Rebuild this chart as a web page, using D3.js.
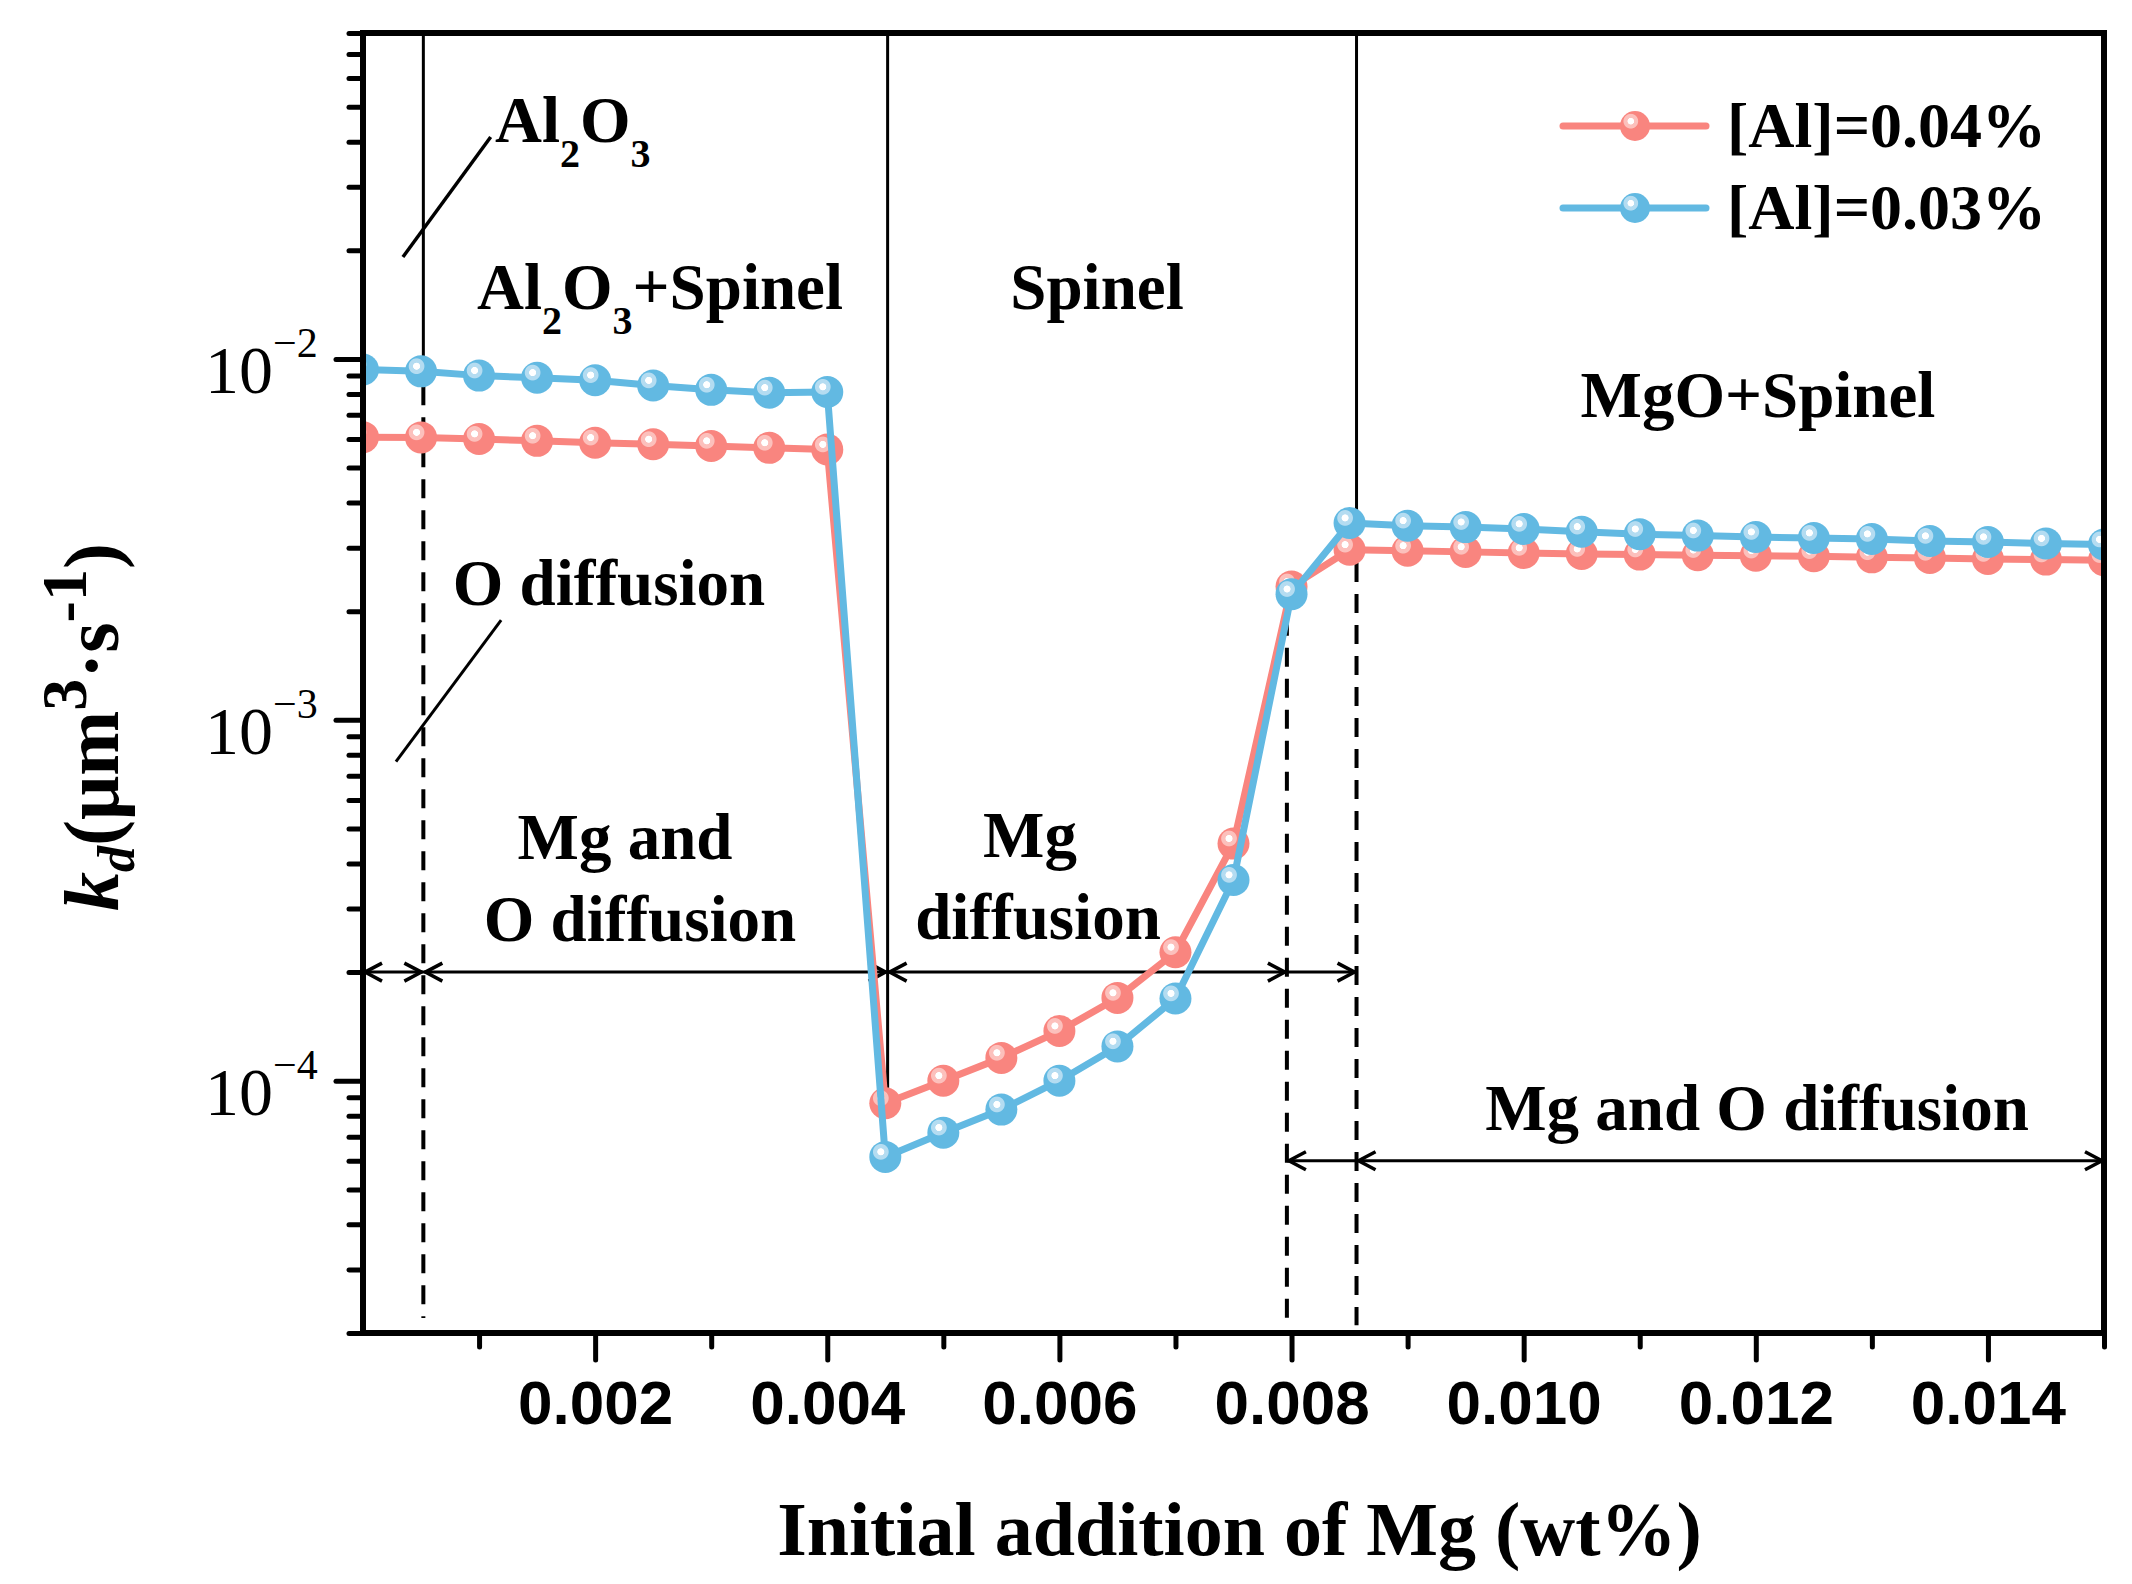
<!DOCTYPE html>
<html>
<head>
<meta charset="utf-8">
<script src="https://cdn.jsdelivr.net/npm/d3@7"></script>
<style>
  body { margin: 0; background: #fff; }
</style>
</head>
<body>
<div id="chart"></div>
<script>
// initial Mg addition (wt%)
const xValues = [0, 0.0005, 0.001, 0.0015, 0.002, 0.0025, 0.003, 0.0035, 0.004,
  0.0045, 0.005, 0.0055, 0.006, 0.0065, 0.007, 0.0075, 0.008, 0.0085, 0.009,
  0.0095, 0.010, 0.0105, 0.011, 0.0115, 0.012, 0.0125, 0.013, 0.0135, 0.014,
  0.0145, 0.015]

// kd for [Al]=0.04%
const kdAl004 = [0.00607, 0.00606, 0.00600, 0.00593, 0.00586, 0.00580, 0.00574, 0.00567, 0.00561,
  8.66e-5, 1.0e-4, 1.157e-4, 1.373e-4, 1.696e-4, 2.27e-4, 4.54e-4, 2.34e-3, 2.96e-3, 2.94e-3,
  2.92e-3, 2.90e-3, 2.88e-3, 2.87e-3, 2.86e-3, 2.85e-3, 2.84e-3, 2.82e-3, 2.81e-3, 2.79e-3,
  2.78e-3, 2.77e-3]

// kd for [Al]=0.03%
const kdAl003 = [0.00935, 0.00924, 0.00899, 0.00887, 0.00873, 0.00844, 0.00821, 0.00806, 0.00810,
  6.15e-5, 7.18e-5, 8.32e-5, 1.0e-4, 1.245e-4, 1.69e-4, 3.6e-4, 2.23e-3, 3.51e-3, 3.45e-3,
  3.42e-3, 3.38e-3, 3.32e-3, 3.27e-3, 3.24e-3, 3.21e-3, 3.19e-3, 3.17e-3, 3.13e-3, 3.11e-3,
  3.08e-3, 3.06e-3]

const seriesNames = ['[Al]=0.04%', '[Al]=0.03%']

const xMajorTicks = [0.002, 0.004, 0.006, 0.008, 0.010, 0.012, 0.014]
const xMinorTicks = [0.001, 0.003, 0.005, 0.007, 0.009, 0.011, 0.013, 0.015]
const yMajorTicks = [1e-4, 1e-3, 1e-2]
const yExponents = ['\u22124', '\u22123', '\u22122']

// phase boundaries (wt% Mg)
const boundaries = [0.00052, 0.00452, 0.00796, 0.00856]

const W = 2132
const H = 1584
const plot = { left: 363, right: 2104, top: 33, bottom: 1333 }

const colors = [
  { base: '#f9857f', ring: '#fcc0bc' },
  { base: '#62b9e2', ring: '#b4dcf1' }
]
const serif = "'Liberation Serif', 'Times New Roman', serif"
const sans = "'Liberation Sans', Arial, sans-serif"

const svg = d3.select('#chart')
  .append('svg')
  .attr('width', W)
  .attr('height', H)
  .style('background', '#fff')

const x = d3.scaleLinear().domain([0, 0.015]).range([plot.left, plot.right])
const y = d3.scaleLog().domain([2e-5, 8e-2]).range([plot.bottom, plot.top])

const defs = svg.append('defs')
defs.append('clipPath').attr('id', 'plotclip')
  .append('rect')
  .attr('x', plot.left).attr('y', plot.top)
  .attr('width', plot.right - plot.left).attr('height', plot.bottom - plot.top)

colors.forEach((c, i) => {
  const g = defs.append('radialGradient')
    .attr('id', 'ball' + i)
    .attr('cx', 0.36).attr('cy', 0.34).attr('r', 0.5)
  g.append('stop').attr('offset', 0).attr('stop-color', '#fff')
  g.append('stop').attr('offset', 0.2).attr('stop-color', '#fff')
  g.append('stop').attr('offset', 0.24).attr('stop-color', c.ring)
  g.append('stop').attr('offset', 0.46).attr('stop-color', c.ring)
  g.append('stop').attr('offset', 0.52).attr('stop-color', c.base)
  g.append('stop').attr('offset', 1).attr('stop-color', c.base)
})

// ---- boundary lines and arrows ----
const guides = svg.append('g').attr('stroke', '#000').attr('fill', 'none')

function vline (xv, y0, y1, dashed) {
  guides.append('line')
    .attr('x1', x(xv)).attr('x2', x(xv))
    .attr('y1', y(y0)).attr('y2', y(y1))
    .attr('stroke-width', dashed ? 4 : 3)
    .attr('stroke-dasharray', dashed ? '19 12' : null)
}
vline(boundaries[0], 8e-2, 8.9e-3, false)
vline(boundaries[0], 8.4e-3, 2.2e-5, true)
vline(boundaries[1], 8e-2, 8.5e-5, false)
vline(boundaries[2], 1.93e-3, 2.1e-5, true)
vline(boundaries[3], 8e-2, 2.96e-3, false)
vline(boundaries[3], 2.72e-3, 2.1e-5, true)

function arrow (x0, x1, yv, headLeft, headRight) {
  const py = y(yv)
  const a = x(x0)
  const b = x(x1)
  guides.append('line')
    .attr('x1', a).attr('x2', b).attr('y1', py).attr('y2', py)
    .attr('stroke-width', 3)
  const head = (tx, d) => guides.append('path')
    .attr('d', `M${tx - d * 17},${py - 9}L${tx},${py}L${tx - d * 17},${py + 9}`)
    .attr('stroke-width', 3.5)
  if (headLeft) head(a + 2, -1)
  if (headRight) head(b - 2, 1)
}
arrow(0, boundaries[0], 2e-4, true, true)
arrow(boundaries[0], boundaries[1], 2e-4, true, true)
arrow(boundaries[1], boundaries[2], 2e-4, true, true)
arrow(boundaries[2], boundaries[3], 2e-4, false, true)
arrow(boundaries[2], boundaries[3], 6e-5, true, false)
arrow(boundaries[3], 0.015, 6e-5, true, true)

// leader lines
guides.append('line')
  .attr('x1', x(0.0011)).attr('y1', y(0.0412))
  .attr('x2', x(0.000344)).attr('y2', y(0.01917))
  .attr('stroke-width', 3.5)
guides.append('line')
  .attr('x1', x(0.00119)).attr('y1', y(1.89e-3))
  .attr('x2', x(0.000284)).attr('y2', y(7.66e-4))
  .attr('stroke-width', 3)

// ---- series ----
const series = [kdAl004, kdAl003].map((vals, i) => ({
  name: seriesNames[i],
  points: xValues.map((xv, j) => [xv, vals[j]])
}))

const line = d3.line().x(d => x(d[0])).y(d => y(d[1]))
const dataG = svg.append('g').attr('clip-path', 'url(#plotclip)')

series.forEach((s, i) => {
  dataG.append('path')
    .datum(s.points)
    .attr('d', line)
    .attr('fill', 'none')
    .attr('stroke', colors[i].base)
    .attr('stroke-width', 7)
    .attr('stroke-linejoin', 'round')
  dataG.selectAll('.pt' + i)
    .data(s.points)
    .enter()
    .append('circle')
    .attr('cx', d => x(d[0]))
    .attr('cy', d => y(d[1]))
    .attr('r', 16)
    .attr('fill', `url(#ball${i})`)
})

// ---- axes ----
const axG = svg.append('g')

const xMajor = axG.append('g')
  .attr('transform', `translate(0,${plot.bottom})`)
  .call(d3.axisBottom(x).tickValues(xMajorTicks).tickSize(27).tickPadding(20)
    .tickFormat(d3.format('.3f')))
const xMinor = axG.append('g')
  .attr('transform', `translate(0,${plot.bottom})`)
  .call(d3.axisBottom(x).tickValues(xMinorTicks).tickSize(14).tickFormat(''))

const yMinorTicks = y.ticks().filter(v => !yMajorTicks.some(m => Math.abs(m - v) / m < 1e-6))
const yMajor = axG.append('g')
  .attr('transform', `translate(${plot.left},0)`)
  .call(d3.axisLeft(y).tickValues(yMajorTicks).tickSize(27).tickFormat(''))
const yMinor = axG.append('g')
  .attr('transform', `translate(${plot.left},0)`)
  .call(d3.axisLeft(y).tickValues(yMinorTicks).tickSize(14).tickFormat(''))

;[xMajor, xMinor, yMajor, yMinor].forEach(g => {
  g.select('.domain').remove()
  g.selectAll('.tick line').attr('stroke', '#000').attr('stroke-width', 5)
    .attr('stroke-linecap', 'round')
})
xMajor.selectAll('.tick text')
  .attr('fill', '#000')
  .style('font-family', sans)
  .style('font-weight', 'bold')
  .style('font-size', '62px')

// y tick labels 10^n
const yLab = axG.selectAll('.ylab')
  .data(yMajorTicks)
  .enter()
  .append('text')
  .attr('x', 205)
  .attr('y', d => y(d) + 34)
  .style('font-family', serif)
  .style('font-size', '68px')
yLab.append('tspan').text('10')
yLab.append('tspan')
  .attr('dy', -36)
  .style('font-size', '42px')
  .text((d, i) => yExponents[i])

// frame
axG.append('rect')
  .attr('x', plot.left).attr('y', plot.top)
  .attr('width', plot.right - plot.left).attr('height', plot.bottom - plot.top)
  .attr('fill', 'none').attr('stroke', '#000').attr('stroke-width', 6)

// axis titles
svg.append('text')
  .attr('x', (plot.left + plot.right) / 2 + 6)
  .attr('y', 1555)
  .attr('text-anchor', 'middle')
  .style('font-family', serif)
  .style('font-weight', 'bold')
  .style('font-size', '76px')
  .text('Initial addition of Mg (wt%)')

const yTitle = svg.append('text')
  .attr('transform', 'translate(118,727) rotate(-90)')
  .attr('text-anchor', 'middle')
  .style('font-family', serif)
  .style('font-weight', 'bold')
  .style('font-size', '78px')
yTitle.append('tspan').style('font-style', 'italic').text('k')
yTitle.append('tspan').style('font-style', 'italic').style('font-size', '52px')
  .attr('dy', 16).text('d')
yTitle.append('tspan').attr('dy', -16).text('(\u03bcm')
yTitle.append('tspan').style('font-size', '64px').attr('dy', -32).text('3')
yTitle.append('tspan').attr('dy', 32).text('\u00b7s')
yTitle.append('tspan').style('font-size', '64px').attr('dy', -32).text('-1')
yTitle.append('tspan').attr('dy', 32).text(')')

// ---- region labels ----
const labels = svg.append('g')
  .style('font-family', serif)
  .style('font-weight', 'bold')
  .style('font-size', '65px')

function formula (xp, yp, parts, anchor) {
  const t = labels.append('text').attr('x', xp).attr('y', yp)
    .attr('text-anchor', anchor || 'start')
  parts.forEach(p => {
    const sp = t.append('tspan').text(p.t)
    if (p.sub) sp.style('font-size', '40px').attr('dy', 25)
    if (p.back) sp.attr('dy', -25)
  })
  return t
}
formula(495, 142, [{ t: 'Al' }, { t: '2', sub: true }, { t: 'O', back: true }, { t: '3', sub: true }])
formula(477, 309, [{ t: 'Al' }, { t: '2', sub: true }, { t: 'O', back: true }, { t: '3', sub: true },
  { t: '+Spinel', back: true }])

const plain = [
  { t: 'Spinel', x: 1097, y: 309 },
  { t: 'MgO+Spinel', x: 1758, y: 417 },
  { t: 'O diffusion', x: 609, y: 605 },
  { t: 'Mg and', x: 625, y: 859 },
  { t: 'O diffusion', x: 640, y: 941 },
  { t: 'Mg', x: 1030, y: 857 },
  { t: 'diffusion', x: 1038, y: 939 },
  { t: 'Mg and O diffusion', x: 1757, y: 1130 }
]
labels.selectAll('.plain')
  .data(plain)
  .enter()
  .append('text')
  .attr('x', d => d.x)
  .attr('y', d => d.y)
  .attr('text-anchor', 'middle')
  .text(d => d.t)

// ---- legend ----
const legend = svg.append('g')
series.forEach((s, i) => {
  const ly = 126 + i * 82
  legend.append('line')
    .attr('x1', 1563).attr('x2', 1706).attr('y1', ly).attr('y2', ly)
    .attr('stroke', colors[i].base).attr('stroke-width', 7)
    .attr('stroke-linecap', 'round')
  legend.append('circle')
    .attr('cx', 1635).attr('cy', ly).attr('r', 15)
    .attr('fill', `url(#ball${i})`)
  legend.append('text')
    .attr('x', 1727).attr('y', ly + 21)
    .style('font-family', serif)
    .style('font-weight', 'bold')
    .style('font-size', '64px')
    .text(s.name)
})
</script>
</body>
</html>
